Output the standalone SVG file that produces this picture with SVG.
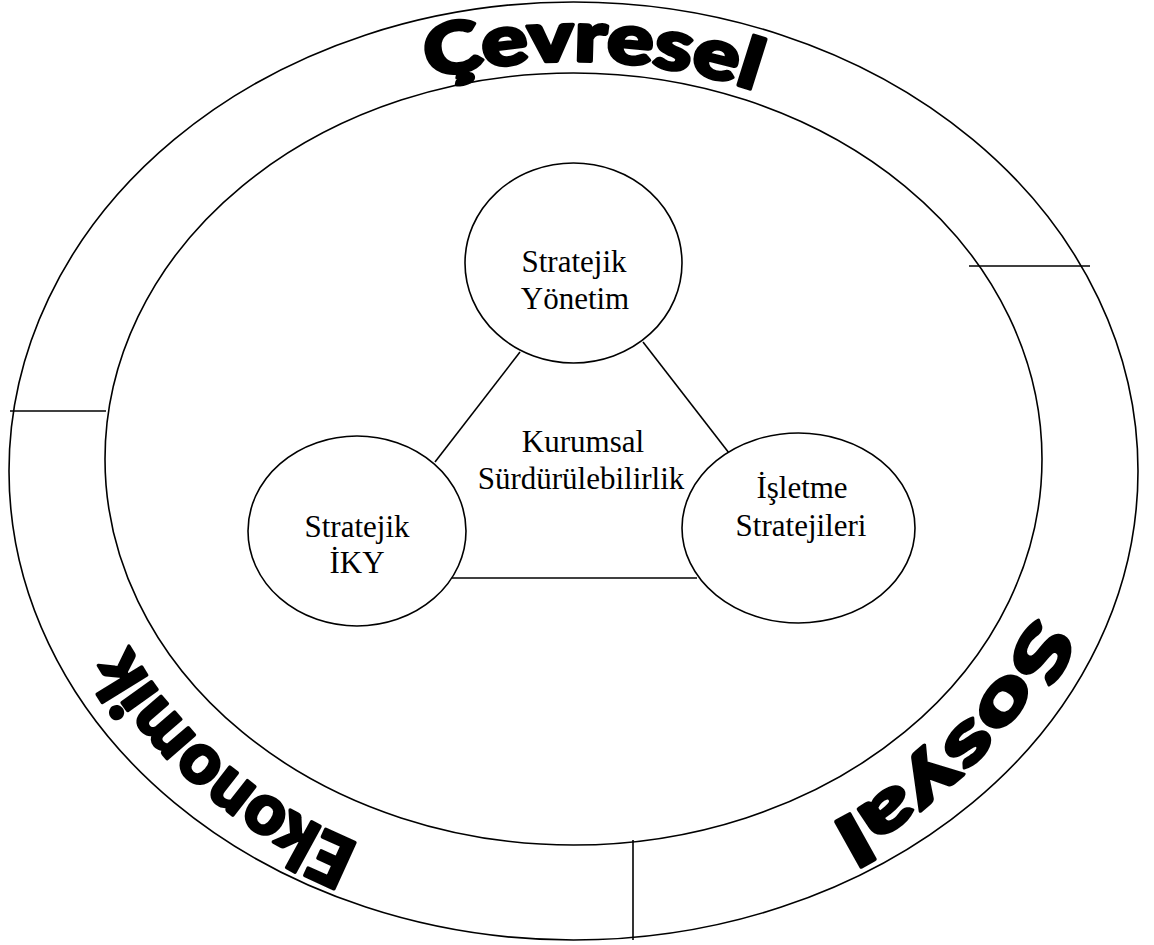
<svg xmlns="http://www.w3.org/2000/svg" width="1154" height="945" viewBox="0 0 1154 945">
  <style>
    .ring { fill: none; stroke: #000; stroke-width: 1.6; }
    .node { fill: #fff; stroke: #000; stroke-width: 1.6; }
    .link { stroke: #000; stroke-width: 1.6; fill: none; }
    .lbl { font-family: "Liberation Serif", "Times New Roman", serif; font-size: 31px; fill: #000; text-anchor: middle; }
    .arc { font-family: Lato, "DejaVu Sans", sans-serif; font-weight: 900; font-size: 70px; fill: #000; stroke: #000; stroke-width: 3.5; stroke-linejoin: round; }
  </style>
  <defs>
    <!-- clockwise baselines running through the band between the rings -->
    <path id="band" d="M 92.5,459 A 481 398 0 0 1 1054.5,459 A 481 398 0 0 1 92.5,459 Z"/>
    <path id="band-low" d="M 83.5,471 A 490 415 0 0 1 1063.5,471 A 490 415 0 0 1 83.5,471 Z"/>
  </defs>
  <rect width="1154" height="945" fill="#fff"/>

  <!-- outer and inner rings with the three dividers -->
  <g id="rings">
    <ellipse class="ring" cx="573.5" cy="471" rx="564.5" ry="469"/>
    <ellipse class="ring" cx="573.5" cy="459" rx="468.5" ry="386"/>
    <line class="ring" x1="969" y1="266" x2="1090" y2="266"/>
    <line class="ring" x1="10" y1="411" x2="106" y2="411"/>
    <line class="ring" x1="633" y1="840" x2="633" y2="940"/>
  </g>

  <!-- dimension labels along the band -->
  <g id="band-labels">
    <text class="arc"><textPath href="#band" startOffset="711" text-anchor="middle" textLength="330" lengthAdjust="spacingAndGlyphs">Çevresel</textPath></text>
    <text class="arc"><textPath href="#band-low" startOffset="1720" text-anchor="middle" textLength="295" lengthAdjust="spacingAndGlyphs">Sosyal</textPath></text>
    <text class="arc"><textPath href="#band-low" startOffset="2509" text-anchor="middle" textLength="310" lengthAdjust="spacingAndGlyphs">Ekonomik</textPath></text>
  </g>

  <!-- connectors -->
  <g id="connectors">
    <line class="link" x1="520" y1="352" x2="435" y2="462"/>
    <line class="link" x1="643" y1="342" x2="729" y2="453"/>
    <line class="link" x1="452" y1="578" x2="697" y2="578"/>
  </g>

  <g id="center-label">
    <text class="lbl" x="583" y="452">Kurumsal</text>
    <text class="lbl" x="581" y="489">Sürdürülebilirlik</text>
  </g>

  <g id="node-yonetim">
    <ellipse class="node" cx="573.5" cy="263" rx="108.5" ry="100"/>
    <text class="lbl" x="574" y="272">Stratejik</text>
    <text class="lbl" x="575" y="309">Yönetim</text>
  </g>

  <g id="node-iky">
    <ellipse class="node" cx="357" cy="531" rx="109" ry="95"/>
    <text class="lbl" x="357" y="537">Stratejik</text>
    <text class="lbl" x="357" y="573">İKY</text>
  </g>

  <g id="node-isletme">
    <ellipse class="node" cx="798.5" cy="528" rx="116.5" ry="95"/>
    <text class="lbl" x="802" y="498">İşletme</text>
    <text class="lbl" x="801" y="536">Stratejileri</text>
  </g>
</svg>
